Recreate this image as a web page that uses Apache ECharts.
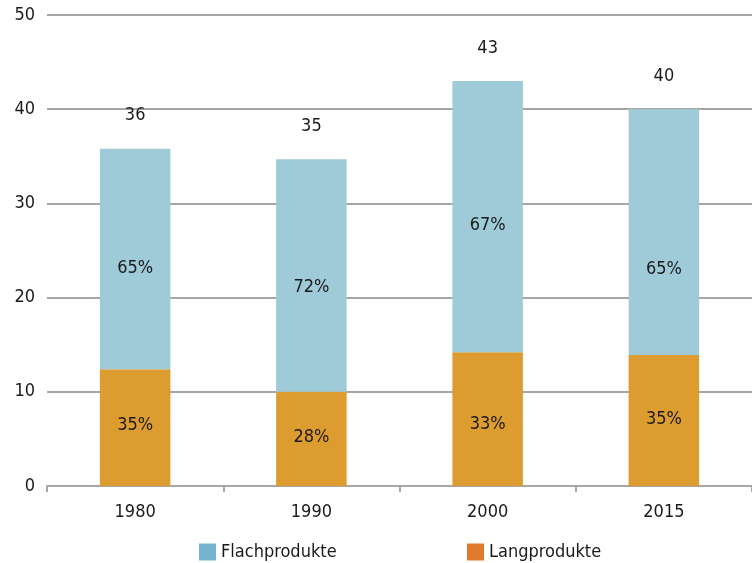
<!DOCTYPE html>
<html>
<head>
<meta charset="utf-8">
<script src="https://cdn.jsdelivr.net/npm/echarts@6/dist/echarts.min.js"></script>
<style>
  html, body { margin: 0; padding: 0; background: #fff; }
  #chart { width: 752px; height: 563px; }
</style>
</head>
<body>
<div id="chart"></div>
<script>
// data
var years = ['1980', '1990', '2000', '2015'];
var langprodukte = [12.4, 10.0, 14.2, 13.9];
var flachprodukte = [23.4, 24.7, 28.8, 26.1];
var totals = [36, 35, 43, 40];
var flachShare = ['65%', '72%', '67%', '65%'];
var langShare = ['35%', '28%', '33%', '35%'];
var yTicks = [0, 10, 20, 30, 40, 50];

// label nudges (px), the source does not centre them exactly
var flachNudge = [9, 12, 9, 37];
var langNudge = [-2, -2, 5, -1];

var font = '"Liberation Sans Narrow", "DejaVu Sans Condensed", "Roboto", sans-serif';
var fs = 18;
var chart = echarts.init(document.getElementById('chart'));

chart.setOption({
  animation: false,
  textStyle: { fontFamily: font },
  grid: { left: 47, right: 0, top: 15, bottom: 77 },
  legend: [{
    left: 194, top: 538, itemWidth: 17, itemHeight: 17, itemGap: 10,
    icon: 'rect',
    textStyle: { fontFamily: font, fontSize: fs, color: '#1a1a1a' },
    data: [{ name: 'Flachprodukte', itemStyle: { color: '#74b4ce' } }]
  }, {
    left: 462, top: 538, itemWidth: 17, itemHeight: 17,
    icon: 'rect',
    textStyle: { fontFamily: font, fontSize: fs, color: '#1a1a1a' },
    data: [{ name: 'Langprodukte', itemStyle: { color: '#e07b2d' } }]
  }],
  xAxis: {
    type: 'category',
    data: years,
    axisLine: { lineStyle: { color: '#a6a6a6', width: 2 } },
    axisTick: { show: true, length: 6, lineStyle: { color: '#a6a6a6', width: 2 } },
    axisLabel: { fontFamily: font, fontSize: fs, color: '#1a1a1a', margin: 17 }
  },
  yAxis: {
    type: 'value',
    min: yTicks[0], max: yTicks[yTicks.length - 1], interval: 10,
    axisLine: { show: false },
    axisTick: { show: false },
    axisLabel: { fontFamily: font, fontSize: fs, color: '#1a1a1a', margin: 12, padding: [3, 0, 0, 0] },
    splitLine: { lineStyle: { color: '#a6a6a6', width: 2 } }
  },
  series: [{
    name: 'Langprodukte',
    type: 'bar',
    stack: 'total',
    barWidth: '40%',
    itemStyle: { color: '#dd9c2f' },
    data: langprodukte.map(function (v, i) {
      return { value: v, label: { offset: [0, langNudge[i]] } };
    }),
    label: {
      show: true, position: 'inside', fontFamily: font, fontSize: fs, color: '#1a1a1a',
      formatter: function (p) { return langShare[p.dataIndex]; }
    }
  }, {
    name: 'Flachprodukte',
    type: 'bar',
    stack: 'total',
    itemStyle: { color: '#9fcbd8' },
    data: flachprodukte.map(function (v, i) {
      return { value: v, label: { offset: [0, flachNudge[i]] } };
    }),
    label: {
      show: true, position: 'inside', fontFamily: font, fontSize: fs, color: '#1a1a1a',
      formatter: function (p) { return flachShare[p.dataIndex]; }
    }
  }, {
    // invisible series carrying the totals above each bar
    name: 'Summe',
    type: 'bar',
    stack: 'total',
    itemStyle: { color: 'transparent' },
    data: totals.map(function () { return 0; }),
    label: {
      show: true, position: 'top', distance: 24, fontFamily: font, fontSize: fs, color: '#1a1a1a',
      formatter: function (p) { return totals[p.dataIndex]; }
    },
    silent: true
  }]
});
</script>
</body>
</html>
